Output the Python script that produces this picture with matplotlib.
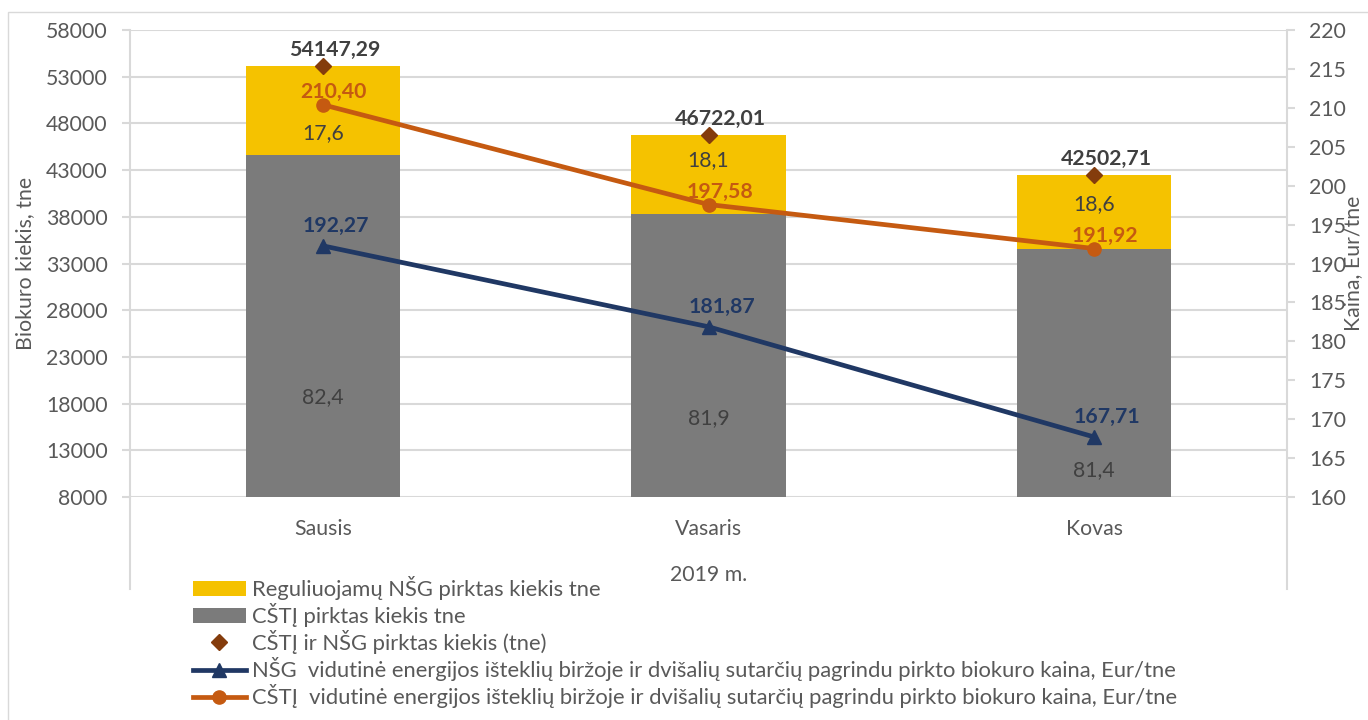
import numpy as np
import matplotlib.pyplot as plt
from matplotlib.patches import Rectangle

plt.rcParams['font.family'] = ['Lato', 'DejaVu Sans']

# data
months = ['Sausis', 'Vasaris', 'Kovas']
year_label = '2019 m.'
cstj_qty = [44617, 38265, 34597]        # CŠTĮ pirktas kiekis, tne
nsg_qty = [9530, 8457, 7906]            # reguliuojamų NŠG pirktas kiekis, tne
total_qty = [54147.29, 46722.01, 42502.71]
cstj_pct = [82.4, 81.9, 81.4]
nsg_pct = [17.6, 18.1, 18.6]
nsg_price = [192.27, 181.87, 167.71]    # Eur/tne
cstj_price = [210.40, 197.58, 191.92]   # Eur/tne

# where the percentage labels sit (left axis units)
nsg_pct_y = [46970, 44080, 39370]
cstj_pct_y = [18700, 16460, 10890]

yellow = '#F5C200'
grey = '#7B7B7B'
brown = '#843C0C'
orange = '#C55A11'
navy = '#203864'
txt = '#595959'
dark = '#404040'
gridc = '#D9D9D9'
fs = 15.3

def lt(v, d):
    return f'{v:.{d}f}'.replace('.', ',')

fig = plt.figure(figsize=(13.68, 7.2), dpi=100)
fig.patches.append(Rectangle((8/1368, -0.1), 1.2, 1.1 - 12/720, transform=fig.transFigure,
                             fill=False, edgecolor=gridc, lw=1.0))

ax = fig.add_axes([130/1368, 1 - 497/720, 1157/1368, 467/720])
x = np.arange(len(months))

b1 = ax.bar(x, cstj_qty, width=0.4, color=grey, zorder=2, label='CŠTĮ pirktas kiekis tne')
b2 = ax.bar(x, nsg_qty, width=0.4, bottom=cstj_qty, color=yellow, zorder=2,
            label='Reguliuojamų NŠG pirktas kiekis tne')
d, = ax.plot(x, total_qty, 'D', color=brown, ms=8, zorder=3, label='CŠTĮ ir NŠG pirktas kiekis (tne)')

ax.set_xlim(-0.5, 2.5)
ax.set_ylim(8000, 58000)
yt = np.arange(8000, 58001, 5000)
ax.set_yticks(yt)
ax.set_yticklabels([str(v) for v in yt])
ax.yaxis.grid(True, color=gridc, lw=1.5)
ax.set_axisbelow(True)
ax.set_xticks(x)
ax.set_xticklabels(months)
ax.tick_params(axis='x', length=0, pad=16, labelsize=fs, labelcolor=txt)
ax.tick_params(axis='y', length=6, width=1.5, color=gridc, pad=10, labelsize=fs, labelcolor=txt)
for s in ['top', 'bottom', 'right']:
    ax.spines[s].set_visible(False)
ax.spines['left'].set_color(gridc)
ax.spines['left'].set_linewidth(1.5)
ax.set_ylabel('Biokuro kiekis, tne', fontsize=fs, color=txt, labelpad=8)

ax2 = ax.twinx()
ax2.set_ylim(160, 220)
ax2.set_yticks(np.arange(160, 221, 5))
ax2.tick_params(axis='y', length=6, width=1.5, color=gridc, pad=10, labelsize=fs, labelcolor=txt)
for s in ['top', 'bottom', 'left']:
    ax2.spines[s].set_visible(False)
ax2.spines['right'].set_color(gridc)
ax2.spines['right'].set_linewidth(1.5)
ax2.set_ylabel('Kaina, Eur/tne', fontsize=fs, color=txt, labelpad=-2)

l1, = ax2.plot(x, nsg_price, color=navy, lw=3.4, marker='^', ms=10, zorder=4,
               label='NŠG  vidutinė energijos išteklių biržoje ir dvišalių sutarčių pagrindu pirkto biokuro kaina, Eur/tne')
l2, = ax2.plot(x, cstj_price, color=orange, lw=3.4, marker='o', ms=9.5, zorder=4,
               label='CŠTĮ  vidutinė energijos išteklių biržoje ir dvišalių sutarčių pagrindu pirkto biokuro kaina, Eur/tne')

# extended category separators
for xa in (0, 1):
    ax.plot([xa, xa], [-0.197, 0], transform=ax.transAxes, color=gridc, lw=1.5, clip_on=False)
ax.text(0.5, -0.167, year_label, transform=ax.transAxes, ha='center', va='center',
        fontsize=fs, color=txt)

# data labels
tr = ax.transData
for i in x:
    ax2.annotate(lt(total_qty[i], 2), (i, total_qty[i]), xycoords=tr, xytext=(12, 16),
                 textcoords='offset pixels', ha='center', va='center', fontsize=fs,
                 fontweight='bold', color=dark, zorder=6)
    ax2.annotate(lt(cstj_price[i], 2), (i, cstj_price[i]), xytext=(11, 13),
                 textcoords='offset pixels', ha='center', va='center', fontsize=fs,
                 fontweight='bold', color=orange, zorder=6)
    ax2.annotate(lt(nsg_price[i], 2), (i, nsg_price[i]), xytext=(13, 20),
                 textcoords='offset pixels', ha='center', va='center', fontsize=fs,
                 fontweight='bold', color=navy, zorder=6)
    ax2.annotate(lt(nsg_pct[i], 1), (i, nsg_pct_y[i]), xycoords=tr, ha='center', va='center',
                 fontsize=fs, color=dark, zorder=6)
    ax2.annotate(lt(cstj_pct[i], 1), (i, cstj_pct_y[i]), xycoords=tr, ha='center', va='center',
                 fontsize=fs, color=dark, zorder=6)

fig.legend([b2, b1, d, l1, l2], [b2.get_label(), b1.get_label(), d.get_label(), l1.get_label(), l2.get_label()],
           loc='upper left', bbox_to_anchor=(193/1368, 1 - 576/720), frameon=False,
           fontsize=15.8, labelcolor=txt, handlelength=2.4, handletextpad=0.3,
           labelspacing=0.14, borderpad=0, borderaxespad=0, numpoints=1)

fig.savefig('out.png', dpi=100)
